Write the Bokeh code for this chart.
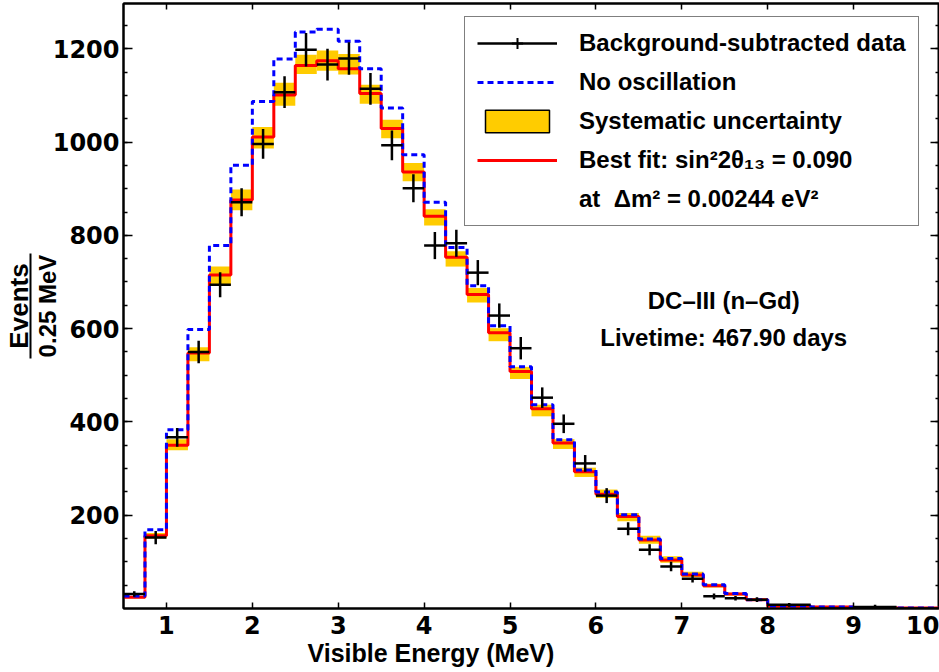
import numpy as np
from bokeh.plotting import figure
from bokeh.models import (ColumnDataSource, Range1d, LinearAxis, FixedTicker,
                          Legend, LegendItem, Label, Title)
from bokeh.embed import file_html
from bokeh.resources import INLINE

# Visible-energy binning (MeV): 0.25 MeV bins up to 8 MeV, wider bins above
bin_edges = [0.5, 0.75, 1.0, 1.25, 1.5, 1.75, 2.0, 2.25, 2.5, 2.75, 3.0,
             3.25, 3.5, 3.75, 4.0, 4.25, 4.5, 4.75, 5.0, 5.25, 5.5, 5.75,
             6.0, 6.25, 6.5, 6.75, 7.0, 7.25, 7.5, 7.75, 8.0, 8.5, 9.0, 9.5, 10.0]

# Background-subtracted data (events / bin) and statistical errors
data_counts = [31, 152, 367, 550, 694, 871, 996, 1107, 1198, 1166, 1179, 1114,
               993, 901, 778, 783, 720, 628, 558, 452, 396, 311, 242, 171, 126,
               90, 64, 26, 22, 19, 8, 0, 3, 0]
data_errors = [6, 14, 20, 24, 27, 30, 32, 34, 36, 34, 35, 34, 32, 30, 29, 29,
               27, 26, 24, 22, 20, 18, 16, 14, 12, 10, 8, 6, 5, 5, 4, 0, 5, 0]

# Best-fit prediction and its systematic envelope
best_fit = [24, 156, 350, 548, 715, 876, 1011, 1101, 1164, 1174, 1157, 1104,
            1029, 936, 841, 753, 673, 591, 508, 428, 355, 293, 245, 197, 147,
            104, 72, 49, 31, 19, 5, 3, 1.5, 1]
syst_low = [22, 150, 339, 530, 693, 854, 986, 1078, 1146, 1153, 1145, 1082,
            1008, 916, 821, 733, 656, 573, 492, 412, 342, 282, 237, 187, 139,
            98, 67, 45, 28, 16, 3, 2, 1, 0.5]
syst_high = [26, 162, 363, 560, 733, 898, 1032, 1127, 1187, 1196, 1189, 1123,
             1048, 955, 856, 766, 687, 601, 518, 437, 363, 302, 255, 205, 156,
             112, 79, 53, 34, 22, 7, 4, 2, 1.5]

# Prediction without oscillation
no_osc = [27, 169, 383, 598, 778, 950, 1087, 1178, 1236, 1242, 1216, 1157,
          1073, 973, 871, 774, 692, 606, 518, 437, 362, 297, 250, 201, 149,
          107, 74, 51, 32, 19, 5.5, 3, 1.5, 1]

x_ticks = [1, 2, 3, 4, 5, 6, 7, 8, 9, 10]
y_ticks = [200, 400, 600, 800, 1000, 1200]
y_minor_ticks = list(range(50, 1300, 50))

# ---- page geometry (pixels) ----
W, H = 939, 672
FRAME_L, FRAME_T, FRAME_B = 122, 3, 64
X_MIN, X_MAX = 0.5, 10.0
Y_MIN, Y_MAX = 0, 1297

frame_w = W - FRAME_L
frame_h = H - FRAME_T - FRAME_B


def sx_to_x(px):
    return X_MIN + (px - FRAME_L) * (X_MAX - X_MIN) / frame_w


def sy_to_y(py):
    return Y_MIN + (H - FRAME_B - py) * (Y_MAX - Y_MIN) / frame_h


lo = np.array(bin_edges[:-1])
hi = np.array(bin_edges[1:])
mid = (lo + hi) / 2
counts = np.array(data_counts, dtype=float)
errs = np.array(data_errors, dtype=float)

src = ColumnDataSource(dict(lo=lo, hi=hi, mid=mid, counts=counts,
                            ylo=counts - errs, yhi=counts + errs,
                            slo=syst_low, shi=syst_high))

step_x = list(bin_edges)
fit_y = list(best_fit) + [best_fit[-1]]
noosc_y = list(no_osc) + [no_osc[-1]]

p = figure(width=W, height=H, output_backend="svg", toolbar_location=None,
           x_range=Range1d(X_MIN, X_MAX), y_range=Range1d(Y_MIN, Y_MAX),
           min_border_left=FRAME_L, min_border_right=0,
           min_border_top=FRAME_T, min_border_bottom=FRAME_B)
p.xgrid.visible = False
p.ygrid.visible = False
p.outline_line_color = "black"
p.outline_line_width = 2
p.background_fill_color = "white"
p.border_fill_color = "white"

TICK_FONT = "DejaVu Sans"
TEXT_FONT = "Liberation Sans"

# bottom axis
xa = p.xaxis[0]
xa.ticker = FixedTicker(ticks=x_ticks, minor_ticks=[])
xa.axis_line_width = 2
xa.major_tick_in = 6
xa.major_tick_out = 0
xa.major_tick_line_width = 1.5
xa.major_label_text_font = TICK_FONT
xa.major_label_text_font_style = "bold"
xa.major_label_text_font_size = "24px"
xa.major_label_text_color = "black"
xa.major_label_standoff = 7

# left axis, with the lower half of the "Events / 0.25 MeV" title
ya = p.yaxis[0]
ya.ticker = FixedTicker(ticks=y_ticks, minor_ticks=y_minor_ticks)
ya.axis_line_width = 2
ya.major_tick_in = 9
ya.major_tick_out = 0
ya.minor_tick_in = 4
ya.minor_tick_out = 0
ya.major_tick_line_width = 1.5
ya.minor_tick_line_width = 1.5
ya.major_label_text_font = TICK_FONT
ya.major_label_text_font_style = "bold"
ya.major_label_text_font_size = "24px"
ya.major_label_text_color = "black"
ya.major_label_standoff = 4
ya.axis_label = "0.25 MeV"
ya.axis_label_text_font = TEXT_FONT
ya.axis_label_text_font_style = "bold"
ya.axis_label_text_font_size = "24px"
ya.axis_label_text_color = "black"
ya.axis_label_standoff = -11

# fraction bar + numerator: a bare axis whose line spans only the title
frac = LinearAxis(ticker=FixedTicker(ticks=[], minor_ticks=[]),
                  bounds=(sy_to_y(358), sy_to_y(253)),
                  axis_line_width=2, axis_line_color="black",
                  major_tick_in=0, major_tick_out=0,
                  minor_tick_in=0, minor_tick_out=0,
                  major_label_standoff=0,
                  axis_label="Events", axis_label_standoff=-3,
                  axis_label_text_font=TEXT_FONT,
                  axis_label_text_font_style="bold",
                  axis_label_text_font_size="26px",
                  axis_label_text_color="black")
p.add_layout(frac, "left")

# mirrored tick marks on top and right, without labels
top = LinearAxis(ticker=FixedTicker(ticks=x_ticks, minor_ticks=[]),
                 major_label_overrides={t: "" for t in x_ticks},
                 major_tick_in=6, major_tick_out=0, major_label_standoff=0,
                 axis_line_width=2, major_tick_line_width=1.5)
p.add_layout(top, "above")
right = LinearAxis(ticker=FixedTicker(ticks=y_ticks, minor_ticks=y_minor_ticks),
                   major_label_overrides={t: "" for t in y_ticks},
                   major_tick_in=9, major_tick_out=0, minor_tick_in=4,
                   minor_tick_out=0, major_label_standoff=0,
                   axis_line_width=2, major_tick_line_width=1.5,
                   minor_tick_line_width=1.5)
p.add_layout(right, "right")

# x-axis title, set left of centre
p.add_layout(Title(text="Visible Energy (MeV)", align="left", offset=184,
                   standoff=0, vertical_align="bottom",
                   text_font=TEXT_FONT, text_font_style="bold",
                   text_font_size="25px", text_color="black"), "below")

# systematic band, predictions, data
p.quad(left="lo", right="hi", bottom="slo", top="shi", source=src,
       fill_color="#FFCC00", line_color=None)
fit_r = p.step(x=step_x, y=fit_y, mode="after", line_color="#FF0000",
               line_width=3)
noosc_r = p.step(x=step_x, y=noosc_y, mode="after", line_color="#0000FF",
                 line_width=3, line_dash="6 4")
data_h = p.segment(x0="lo", x1="hi", y0="counts", y1="counts", source=src,
                   line_color="black", line_width=2.5)
p.segment(x0="mid", x1="mid", y0="ylo", y1="yhi", source=src,
          line_color="black", line_width=2.5)

# hidden renderers that only provide legend swatches
cross_r = p.scatter(x="mid", y="counts", source=src, marker="cross", size=20,
                    line_color="black", line_width=2, visible=False)
box_r = p.quad(left="lo", right="hi", bottom="slo", top="shi", source=src,
               fill_color="#FFCC00", line_color="black", line_width=1.5,
               visible=False)
blank_r = p.line(x=[], y=[], line_alpha=0)

legend = Legend(items=[
    LegendItem(label="Background-subtracted data", renderers=[data_h, cross_r]),
    LegendItem(label="No oscillation", renderers=[noosc_r]),
    LegendItem(label="Systematic uncertainty", renderers=[box_r]),
    LegendItem(label="Best fit: sin\u00b22\u03b8\u2081\u2083 = 0.090", renderers=[fit_r]),
    LegendItem(label="at  \u0394m\u00b2 = 0.00244 eV\u00b2", renderers=[blank_r]),
])
legend.location = (341, 382)
legend.padding = 12
legend.spacing = 11
legend.glyph_width = 80
legend.glyph_height = 28
legend.label_height = 28
legend.label_standoff = 22
legend.label_text_font = TEXT_FONT
legend.label_text_font_style = "bold"
legend.label_text_font_size = "24px"
legend.label_text_color = "black"
legend.border_line_color = "black"
legend.border_line_width = 1.5
legend.background_fill_color = "white"
legend.background_fill_alpha = 1
legend.inactive_fill_alpha = 0
p.add_layout(legend)

# run information
for txt, py in [("DC\u2013III (n\u2013Gd)", 300), ("Livetime: 467.90 days", 337)]:
    p.add_layout(Label(x=sx_to_x(723), y=sy_to_y(py), text=txt,
                       text_align="center", text_baseline="alphabetic",
                       text_font=TEXT_FONT, text_font_style="bold",
                       text_font_size="24px", text_color="black"))

open("out.html", "w").write(file_html(p, INLINE))
